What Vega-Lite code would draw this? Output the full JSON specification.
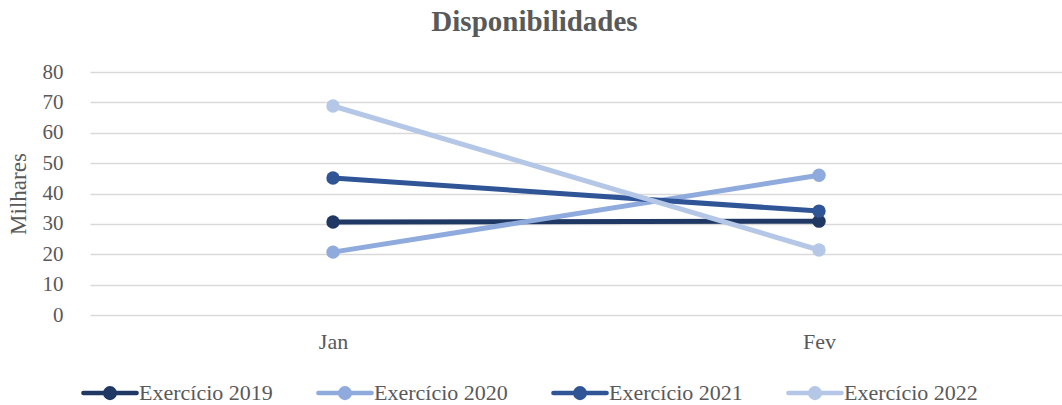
{
  "$schema": "https://vega.github.io/schema/vega-lite/v6.json",
  "width": 972,
  "height": 243,
  "padding": {"left": 7, "top": 8, "right": 0, "bottom": 0},
  "background": "white",
  "config": {"view": {"stroke": null}},
  "title": {"text": "Disponibilidades", "font": "Liberation Serif", "fontSize": 29, "fontWeight": "bold", "color": "#595959", "offset": 24, "anchor": "middle", "frame": "bounds"},
  "data": {"values": [
    {"serie": "Exercício 2019", "mes": "Jan", "valor": 30.6},
    {"serie": "Exercício 2019", "mes": "Fev", "valor": 30.9},
    {"serie": "Exercício 2020", "mes": "Jan", "valor": 20.7},
    {"serie": "Exercício 2020", "mes": "Fev", "valor": 46.0},
    {"serie": "Exercício 2021", "mes": "Jan", "valor": 45.1},
    {"serie": "Exercício 2021", "mes": "Fev", "valor": 34.2},
    {"serie": "Exercício 2022", "mes": "Jan", "valor": 68.8},
    {"serie": "Exercício 2022", "mes": "Fev", "valor": 21.4}
  ]},
  "mark": {"type": "line", "strokeWidth": 5, "strokeCap": "round", "point": {"filled": true, "size": 180, "opacity": 1}},
  "encoding": {
    "x": {"field": "mes", "type": "nominal", "sort": ["Jan", "Fev"], "scale": {"type": "point", "padding": 0.5},
      "axis": {"title": null, "labelAngle": 0, "domain": false, "ticks": false, "grid": false, "labelPadding": 16, "labelFont": "Liberation Serif", "labelFontSize": 22, "labelColor": "#595959"}},
    "y": {"field": "valor", "type": "quantitative", "scale": {"domain": [0, 80], "nice": false},
      "axis": {"title": "Milhares", "values": [0, 10, 20, 30, 40, 50, 60, 70, 80], "domain": false, "ticks": false, "labelPadding": 27, "labelFont": "Liberation Serif", "labelFontSize": 21, "labelColor": "#595959", "titleFont": "Liberation Serif", "titleFontSize": 23, "titleFontWeight": "normal", "titleColor": "#595959", "titlePadding": 12, "gridColor": "#d9d9d9", "gridWidth": 1.5}},
    "color": {"field": "serie", "type": "nominal",
      "scale": {"domain": ["Exercício 2019", "Exercício 2020", "Exercício 2021", "Exercício 2022"], "range": ["#203864", "#8faadc", "#2f5597", "#b4c7e7"]},
      "legend": {"title": null, "orient": "none", "legendX": 9, "legendY": 310, "direction": "horizontal", "columns": 4,
        "symbolType": "M-3.8,0H3.8M-0.68,0A0.68,0.68,0,1,0,0.68,0A0.68,0.68,0,1,0,-0.68,0Z",
        "symbolSize": 196, "symbolStrokeWidth": 4.5, "labelOffset": 18, "columnPadding": 36,
        "labelFont": "Liberation Serif", "labelFontSize": 22, "labelColor": "#595959",
        "encode": {"symbols": {"update": {"fill": {"scale": "color", "field": "value"}, "stroke": {"scale": "color", "field": "value"}, "opacity": {"value": 1}, "strokeCap": {"value": "round"}}}}}}
  }
}
